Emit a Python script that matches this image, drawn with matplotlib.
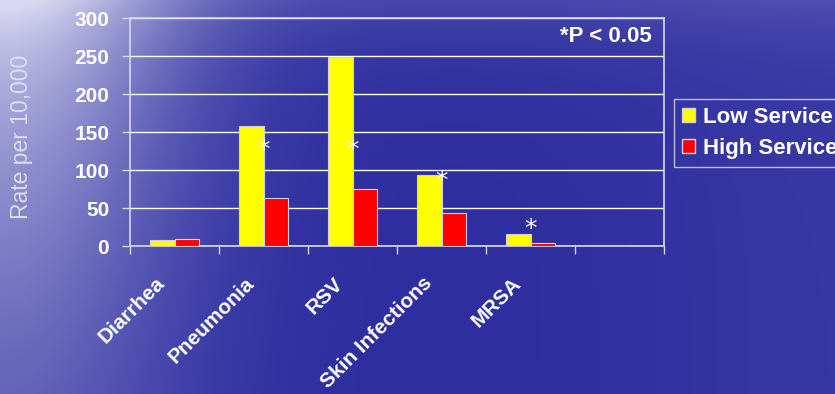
import numpy as np
import matplotlib
matplotlib.use("Agg")
import matplotlib.pyplot as plt
import matplotlib.transforms as mtransforms
from matplotlib.patches import Patch

plt.rcParams['font.family'] = ['Liberation Sans', 'DejaVu Sans']

# ---- data ----
categories = ["Diarrhea", "Pneumonia", "RSV", "Skin Infections", "MRSA"]
low_service = [8, 158, 249, 93, 16]
high_service = [9, 63, 75, 44, 4]
star_level = [np.nan, 126, 126, 85, 22]
series_names = ["Low Service", "High Service"]
y_ticks = [0, 50, 100, 150, 200, 250, 300]
n_slots = 6  # includes one empty slot on the right

W, H = 835, 394
fig = plt.figure(figsize=(W / 100, H / 100), dpi=100)

# ---- background gradient ----
bg = fig.add_axes([0, 0, 1, 1], zorder=-10)
yy, xx = np.mgrid[0:H, 0:W].astype(float)
base = np.array([46, 46, 160]) / 255.0
light = np.array([215, 215, 240]) / 255.0
w = 0.9 * np.exp(-(xx / 176.0) ** 2) * np.exp(-yy / 380.0)
w += 0.15 * np.exp(-yy / 45.0)
w += 0.05 * np.exp(-((xx - 835) / 200.0) ** 2)
w = np.clip(w, 0, 1)[..., None]
img = base * (1 - w) + light * w
bg.imshow(img, aspect='auto', extent=[0, W, H, 0], interpolation='bilinear')
bg.axis('off')

# ---- main axes ----
ax = fig.add_axes([130 / W, 1 - 246 / H, 534 / W, 228 / H])
ax.set_facecolor('none')
x = np.arange(len(categories))
bw = 0.28
ax.bar(x - bw / 2, low_service, bw, color='#ffff00', edgecolor='#d0d0e0', linewidth=0.8, zorder=3,
       label=series_names[0])
ax.bar(x + bw / 2, high_service, bw, color='#ff0000', edgecolor='#d0d0e0', linewidth=0.8, zorder=3,
       label=series_names[1])

for i, lvl in enumerate(star_level):
    if not np.isnan(lvl):
        ax.text(x[i], lvl, "*", color='white', fontsize=18, ha='center', va='center',
                family='DejaVu Sans', zorder=5)

ax.set_xlim(-0.5, n_slots - 0.5)
ax.set_ylim(0, 300)
ax.set_yticks(y_ticks)
ax.set_yticklabels([str(v) for v in y_ticks], fontsize=15, fontweight='bold', color='white')
ax.grid(axis='y', color='white', linewidth=1.0, zorder=0)
ax.set_axisbelow(True)

ax.set_xticks(x)
ax.set_xticklabels(categories, fontsize=15, fontweight='bold', color='white',
                   rotation=45, ha='right', va='top', rotation_mode='anchor')
ax.tick_params(axis='x', which='major', length=0, pad=20)
ax.set_xticks(np.arange(n_slots + 1) - 0.5, minor=True)
ax.tick_params(axis='x', which='minor', length=6, width=1, color='#d8d8e8', direction='out')
ax.tick_params(axis='y', length=6, width=1, color='#d8d8e8', pad=9, direction='out')
offset = mtransforms.ScaledTranslation(-19 / 100, 0, fig.dpi_scale_trans)
for lab in ax.get_xticklabels():
    lab.set_transform(lab.get_transform() + offset)

for s in ax.spines.values():
    s.set_color('#d8d8e8')
    s.set_linewidth(1.2)

ax.text(0.977, 0.917, "*P < 0.05", transform=ax.transAxes, fontsize=16, fontweight='bold',
        color='white', ha='right', va='center')

fig.text(22 / W, 1 - 137 / H, "Rate per 10,000", rotation=90, fontsize=16.5, color='#e4e4f4',
         ha='center', va='center', alpha=0.9)

handles = [Patch(facecolor='#ffff00', edgecolor='#d0d0e0'),
           Patch(facecolor='#ff0000', edgecolor='#d0d0e0')]
leg = fig.legend(handles, series_names, loc='upper left', bbox_to_anchor=(674 / W, 1 - 99 / H),
                 prop={'weight': 'bold', 'size': 16}, frameon=True, fancybox=False,
                 handlelength=0.6, handleheight=0.6, handletextpad=0.35, labelspacing=0.45,
                 borderpad=0.35, borderaxespad=0)
leg.get_frame().set_facecolor('none')
leg.get_frame().set_edgecolor('#e0e0f0')
leg.get_frame().set_linewidth(1)
for t in leg.get_texts():
    t.set_color('white')

fig.savefig("out.png", dpi=100)
